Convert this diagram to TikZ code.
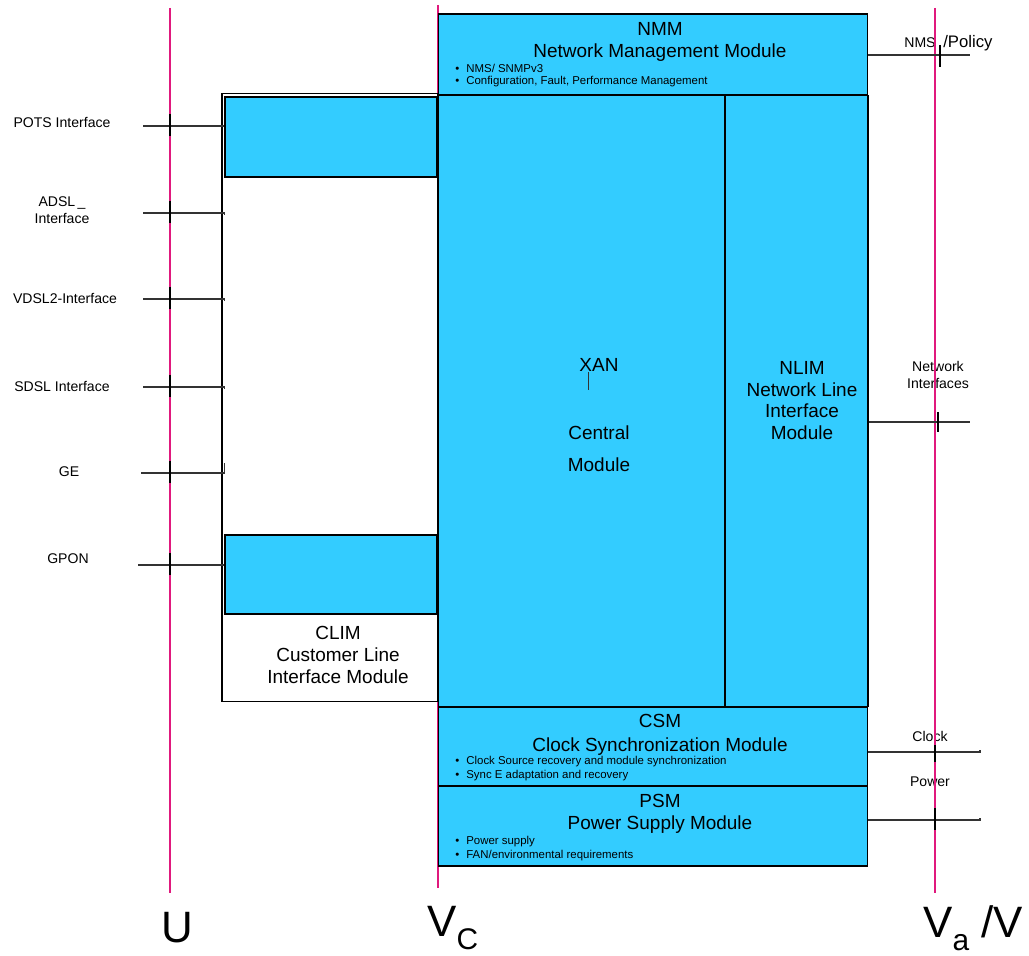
\documentclass[tikz,border=0pt]{standalone}
\usepackage{fontspec}
\setmainfont{Liberation Sans}
\usetikzlibrary{positioning}
\definecolor{Cyan}{HTML}{33CCFF}
\definecolor{Refline}{HTML}{E0197D}
\definecolor{Wire}{HTML}{333333}

\begin{document}
\begin{tikzpicture}[x=0.02cm,y=-0.02cm,
      module/.style={draw=black,fill=Cyan,line width=0.6pt,inner sep=0pt},
      hole/.style={draw=black,fill=white,line width=0.6pt,inner sep=0pt},
      title/.style={font=\fontsize{10.8}{12.4}\selectfont,align=center,inner sep=0pt},
      bullet/.style={font=\fontsize{6.5}{7}\selectfont,anchor=west,inner sep=0pt},
      iflabel/.style={font=\fontsize{8}{9.8}\selectfont,align=center,inner sep=0pt},
      refname/.style={font=\fontsize{25}{25}\selectfont,inner sep=0pt},
      refline/.style={Refline,line width=1.2pt},
      wire/.style={Wire,line width=0.6pt},
      reftick/.style={black,line width=0.9pt}]
      \useasboundingbox (0,0) rectangle (1029,956);
      \node[iflabel] (nms lbl) at (920,43) {NMS};
      \node[iflabel,font=\fontsize{9.5}{11}\selectfont,right=0.14cm of nms lbl] (policy lbl) {/Policy};
      \node[iflabel] (net lbl) at (938,375) {Network\\Interfaces};
      \node[iflabel] (clk lbl) at (930,736) {Clock};
      \node[iflabel] (pwr lbl) at (930,782) {Power};
      \coordinate (u top) at (170,8);
      \coordinate (u bot) at (170,893);
      \coordinate (vc top) at (438,5);
      \coordinate (vc bot) at (438,888);
      \coordinate (va top) at (935,8);
      \coordinate (va bot) at (935,893);
      \draw[refline] (u top) -- (u bot);
      \draw[refline] (vc top) -- (vc bot);
      \draw[refline] (va top) -- (va bot);
      \node[hole,minimum width=4.32cm,minimum height=12.18cm] (clim) at (330,397.5) {};
      \node[module,minimum width=4.24cm,minimum height=1.6cm] (pots) at (331,137) {};
      \node[module,minimum width=4.24cm,minimum height=1.58cm] (gpon) at (331,574.5) {};
      \node[module,minimum width=8.6cm,minimum height=1.62cm] (nmm) at (653,54.5) {};
      \node[module,minimum width=5.74cm,minimum height=12.24cm] (xan) at (581.5,401) {};
      \node[module,minimum width=2.86cm,minimum height=12.24cm] (nlim) at (796.5,401) {};
      \node[module,minimum width=8.6cm,minimum height=1.58cm] (csm) at (653,746.5) {};
      \node[module,minimum width=8.6cm,minimum height=1.6cm] (psm) at (653,826) {};
      \node[title] (nmm title) at (660,42) {NMM\\Network Management Module};
      \node[bullet] (nmm b1) at (455,68) {\textbullet\hspace{4pt}NMS/ SNMPv3};
      \node[bullet] (nmm b2) at (455,82) {\textbullet\hspace{4pt}Configuration, Fault, Performance Management};
      \node[title] (xan title) at (599,365) {XAN};
      \draw[wire] ([xshift=0.18cm]xan title.south west) -- ++(0,18);
      \node[title] (xan text) at (599,449) {Central\\[6pt]Module};
      \node[title] (nlim title) at (802,400.5) {NLIM\\Network Line\\Interface\\Module};
      \node[title] (clim title) at (338,655) {CLIM\\Customer Line\\Interface Module};
      \node[title] (csm title) at (660,735) {CSM\\[1.5pt]Clock Synchronization Module};
      \node[bullet] (csm b1) at (455,762) {\textbullet\hspace{4pt}Clock Source recovery and module synchronization};
      \node[bullet] (csm b2) at (455,776) {\textbullet\hspace{4pt}Sync E adaptation and recovery};
      \node[title] (psm title) at (660,814) {PSM\\Power Supply Module};
      \node[bullet] (psm b1) at (455,842) {\textbullet\hspace{4pt}Power supply};
      \node[bullet] (psm b2) at (455,856) {\textbullet\hspace{4pt}FAN/environmental requirements};
      \node[iflabel] (pots lbl) at (62,122) {POTS Interface};
      \node[iflabel] (adsl lbl) at (62,210.5) {ADSL\,\_\\Interface};
      \node[iflabel] (vdsl lbl) at (65,298) {VDSL2-Interface};
      \node[iflabel] (sdsl lbl) at (62,386) {SDSL Interface};
      \node[iflabel] (ge lbl) at (69,472) {GE};
      \node[iflabel] (gpon lbl) at (68,559) {GPON};
      \coordinate (pots in) at (143,126);
      \coordinate (adsl in) at (143,213);
      \coordinate (vdsl in) at (143,299);
      \coordinate (sdsl in) at (143,387);
      \coordinate (ge in) at (141,473);
      \coordinate (gpon in) at (138,565);
      \draw[wire] (pots in) -- (pots in -| pots.west);
      \draw[wire] (adsl in) -- (adsl in -| clim.west) -- ++(3,0) -- ++(0,2);
      \draw[wire] (vdsl in) -- (vdsl in -| clim.west) -- ++(3,0) -- ++(0,2);
      \draw[wire] (sdsl in) -- (sdsl in -| clim.west) -- ++(3,0) -- ++(0,2);
      \draw[wire] (ge in) -- (ge in -| clim.west) -- ++(3,0) -- ++(0,-10);
      \draw[wire] (gpon in) -- (gpon in -| gpon.west);
      \draw[reftick] (pots in -| u top) ++(0,-12) -- ++(0,22);
      \draw[reftick] (adsl in -| u top) ++(0,-12) -- ++(0,22);
      \draw[reftick] (vdsl in -| u top) ++(0,-12) -- ++(0,22);
      \draw[reftick] (sdsl in -| u top) ++(0,-12) -- ++(0,22);
      \draw[reftick] (ge in -| u top) ++(0,-12) -- ++(0,22);
      \draw[reftick] (gpon in -| u top) ++(0,-12) -- ++(0,22);
      \coordinate (nms out) at (970,55);
      \coordinate (net out) at (970,422);
      \coordinate (clk out) at (980,752);
      \coordinate (pwr out) at (980,820);
      \draw[wire] (nms out -| nmm.east) -- (nms out);
      \draw[wire] (net out -| nlim.east) -- (net out);
      \draw[wire] (clk out -| csm.east) -- (clk out) -- ++(0,-2);
      \draw[wire] (pwr out -| psm.east) -- (pwr out) -- ++(0,-2);
      \draw[reftick] (nms out -| va top) ++(5,-10) -- ++(0,22);
      \draw[reftick] (net out -| va top) ++(3,-10) -- ++(0,20);
      \draw[reftick] (clk out -| va top) ++(0,-7) -- ++(0,17);
      \draw[reftick] (pwr out -| va top) ++(0,-12) -- ++(0,22);
      \node[refname] (u lbl) at (177,928) {U};
      \node[refname,anchor=west] (vc lbl) at (427,928) {V\raisebox{-0.3em}{\fontsize{17}{17}\selectfont C}};
      \node[refname,anchor=west] (va lbl) at (923,928) {V\raisebox{-0.3em}{\fontsize{17}{17}\selectfont a} /V};
\end{tikzpicture}
\end{document}
